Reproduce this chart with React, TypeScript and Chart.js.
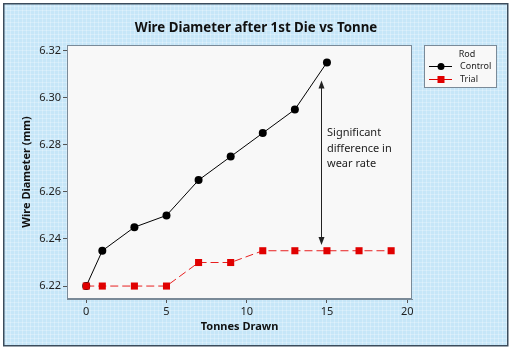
import React, { useEffect, useRef } from "react";
import { Chart, registerables } from "chart.js";

Chart.register(...registerables);

const titleText = "Wire Diameter after 1st Die vs Tonne";
const xTitle = "Tonnes Drawn";
const yTitle = "Wire Diameter (mm)";
const legendTitle = "Rod";

const controlX = [0, 1, 3, 5, 7, 9, 11, 13, 15];
const controlY = [6.22, 6.235, 6.245, 6.25, 6.265, 6.275, 6.285, 6.295, 6.315];
const trialX = [0, 1, 3, 5, 7, 9, 11, 13, 15, 17, 19];
const trialY = [6.22, 6.22, 6.22, 6.22, 6.23, 6.23, 6.235, 6.235, 6.235, 6.235, 6.235];

const seriesNames = ["Control", "Trial"];
const annotationLines = ["Significant", "difference in", "wear rate"];
const arrowX = 14.65;
const arrowTop = 6.3073;
const arrowBottom = 6.2374;

const FONT = "'Noto Sans', 'DejaVu Sans', sans-serif";
const RED = "#e00000";

const decorPlugin = {
  id: "decor",
  beforeDraw(chart: any) {
    const { ctx, width, height, chartArea } = chart;
    ctx.save();
    ctx.fillStyle = "#ffffff";
    ctx.fillRect(0, 0, width, height);
    ctx.fillStyle = "#c6e6f8";
    ctx.fillRect(4, 4, 504, 342);
    ctx.strokeStyle = "rgba(255,255,255,0.25)";
    ctx.lineWidth = 1;
    ctx.beginPath();
    for (let x = 6.5; x < 508; x += 4) {
      ctx.moveTo(x, 4);
      ctx.lineTo(x, 346);
    }
    for (let y = 6.5; y < 346; y += 4) {
      ctx.moveTo(4, y);
      ctx.lineTo(508, y);
    }
    ctx.stroke();
    ctx.strokeStyle = "#3c4c5c";
    ctx.lineWidth = 1.5;
    ctx.strokeRect(3.75, 3.75, 504, 342);
    ctx.fillStyle = "#f8f8f8";
    ctx.fillRect(chartArea.left, chartArea.top, chartArea.right - chartArea.left, chartArea.bottom - chartArea.top);

    // title
    ctx.fillStyle = "#111";
    ctx.font = `bold 13.3px ${FONT}`;
    ctx.textAlign = "center";
    ctx.textBaseline = "middle";
    ctx.fillText(titleText, 256, 28);
    ctx.restore();
  },
  afterDraw(chart: any) {
    const { ctx, chartArea, scales } = chart;
    ctx.save();
    // plot border
    ctx.strokeStyle = "#7a8a98";
    ctx.lineWidth = 1;
    ctx.strokeRect(chartArea.left + 0.5, chartArea.top + 0.5, chartArea.right - chartArea.left - 1, chartArea.bottom - chartArea.top - 1);

    // arrow
    const ax = Math.round(scales.x.getPixelForValue(arrowX)) + 0.5;
    const at = scales.y.getPixelForValue(arrowTop);
    const ab = scales.y.getPixelForValue(arrowBottom);
    ctx.strokeStyle = "#222";
    ctx.fillStyle = "#222";
    ctx.lineWidth = 1;
    ctx.beginPath();
    ctx.moveTo(ax, at + 4);
    ctx.lineTo(ax, ab - 4);
    ctx.stroke();
    ctx.beginPath();
    ctx.moveTo(ax, at);
    ctx.lineTo(ax - 3, at + 8);
    ctx.lineTo(ax + 3, at + 8);
    ctx.closePath();
    ctx.fill();
    ctx.beginPath();
    ctx.moveTo(ax, ab);
    ctx.lineTo(ax - 3, ab - 8);
    ctx.lineTo(ax + 3, ab - 8);
    ctx.closePath();
    ctx.fill();

    ctx.fillStyle = "#222";
    ctx.font = `11px ${FONT}`;
    ctx.textAlign = "left";
    ctx.textBaseline = "middle";
    annotationLines.forEach((t, i) => {
      ctx.fillText(t, ax + 5.5, 133 + i * 15.5);
    });

    // legend
    const lx = 424, ly = 45, lw = 72, lh = 42;
    ctx.fillStyle = "#f8f8f8";
    ctx.fillRect(lx, ly, lw, lh);
    ctx.strokeStyle = "#7a8a98";
    ctx.strokeRect(lx + 0.5, ly + 0.5, lw, lh);
    ctx.fillStyle = "#222";
    ctx.font = `9px ${FONT}`;
    ctx.textAlign = "center";
    ctx.fillText(legendTitle, 467, 54);
    ctx.textAlign = "left";
    // control
    ctx.strokeStyle = "#000";
    ctx.beginPath();
    ctx.moveTo(429, 66.5);
    ctx.lineTo(452, 66.5);
    ctx.stroke();
    ctx.fillStyle = "#000";
    ctx.beginPath();
    ctx.arc(441, 66.5, 3.5, 0, Math.PI * 2);
    ctx.fill();
    ctx.fillStyle = "#222";
    ctx.fillText(seriesNames[0], 460, 66.5);
    // trial
    ctx.strokeStyle = RED;
    ctx.beginPath();
    ctx.moveTo(429, 79.5);
    ctx.lineTo(452, 79.5);
    ctx.stroke();
    ctx.fillStyle = RED;
    ctx.fillRect(437.5, 76, 7, 7);
    ctx.fillStyle = "#222";
    ctx.fillText(seriesNames[1], 460, 79.5);
    ctx.restore();
  },
};

export default function App() {
  const ref = useRef<HTMLCanvasElement>(null);
  useEffect(() => {
    if (!ref.current) return;
    const chart = new Chart(ref.current, {
      type: "line",
      data: {
        datasets: [
          {
            label: seriesNames[1],
            data: trialX.map((x, i) => ({ x, y: trialY[i] })),
            borderColor: "#e82020",
            backgroundColor: RED,
            borderWidth: 1,
            borderDash: [8, 4],
            pointStyle: "rect",
            pointRadius: 5,
            pointBorderWidth: 0,
            tension: 0,
            order: 0,
          },
          {
            label: seriesNames[0],
            data: controlX.map((x, i) => ({ x, y: controlY[i] })),
            borderColor: "#000",
            backgroundColor: "#000",
            borderWidth: 1,
            pointStyle: "circle",
            pointRadius: 4,
            pointBorderWidth: 0,
            tension: 0,
            order: 1,
          },
        ],
      },
      options: {
        animation: false,
        responsive: false,
        layout: { padding: { left: 0, right: 100, top: 45, bottom: 0 } },
        plugins: {
          legend: { display: false },
          tooltip: { enabled: false },
          title: { display: false },
        },
        scales: {
          x: {
            type: "linear",
            min: -1.2,
            max: 20.3,
            border: { display: true, color: "#7a8a98" },
            grid: { display: true, drawOnChartArea: false, tickLength: 4, color: "#555" },
            ticks: {
              stepSize: 5,
              includeBounds: false,
              padding: 2,
              color: "#222",
              font: { family: FONT, size: 11 },
            },
            title: {
              display: true,
              text: xTitle,
              color: "#111",
              font: { family: FONT, size: 11, weight: "bold" },
              padding: { top: 0, bottom: 16.7 },
            },
            afterFit(scale: any) {
              scale.height = 51;
            },
          },
          y: {
            type: "linear",
            min: 6.2145,
            max: 6.3224,
            border: { display: true, color: "#7a8a98" },
            grid: { display: true, drawOnChartArea: false, tickLength: 4, color: "#555" },
            ticks: {
              stepSize: 0.02,
              includeBounds: false,
              padding: 2,
              color: "#222",
              font: { family: FONT, size: 11 },
              callback: (v: any) => Number(v).toFixed(2),
            },
            title: {
              display: true,
              text: yTitle,
              color: "#111",
              font: { family: FONT, size: 11, weight: "bold" },
              padding: { top: 20, bottom: 0 },
            },
            afterFit(scale: any) {
              scale.width = 67;
            },
          },
        },
      },
      plugins: [decorPlugin],
    } as any);
    return () => chart.destroy();
  }, []);
  return (
    <div style={{ position: "fixed", left: 0, top: 0, width: 512, height: 350 }}>
      <canvas ref={ref} width={512} height={350} style={{ width: 512, height: 350 }} />
    </div>
  );
}
